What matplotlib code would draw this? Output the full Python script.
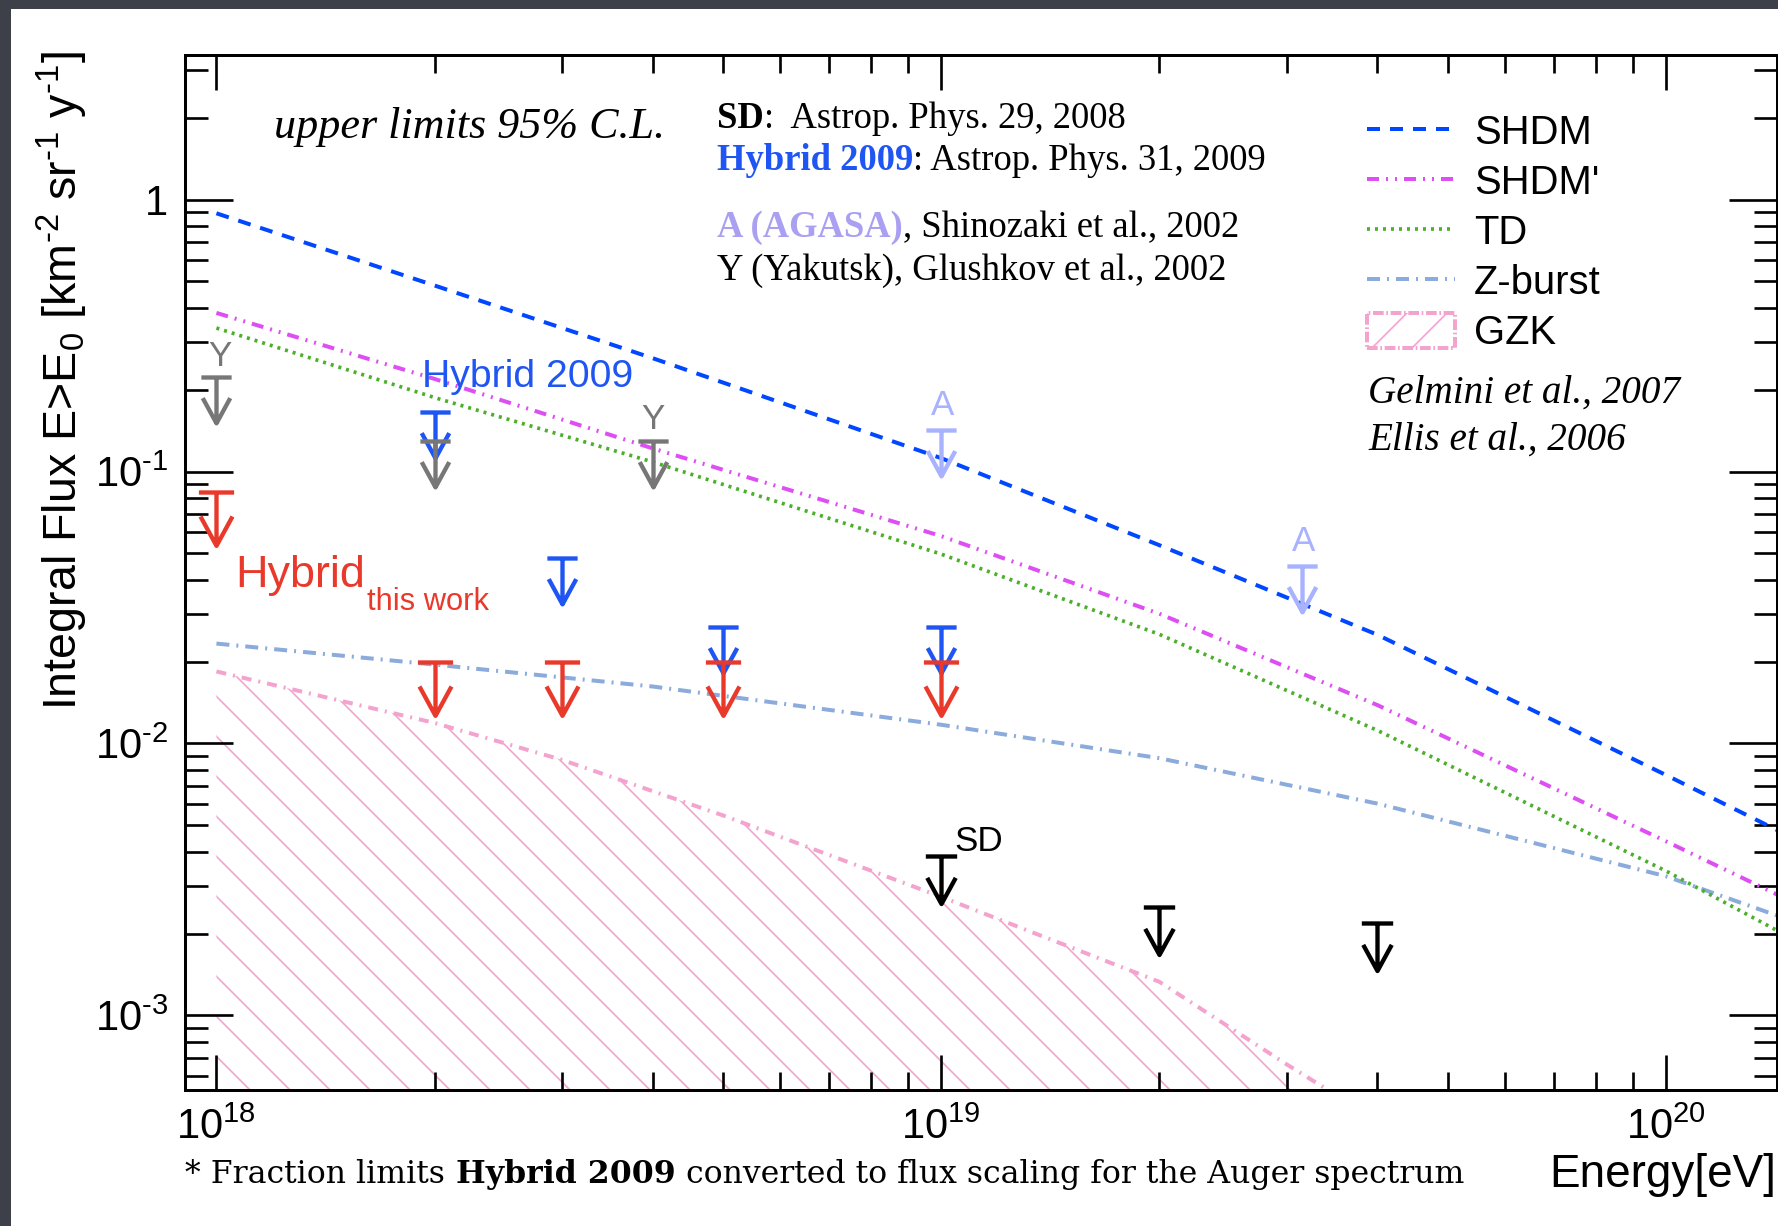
import matplotlib
matplotlib.use('Agg')
import matplotlib.pyplot as plt
import numpy as np
from matplotlib.path import Path
from matplotlib.patches import Rectangle, Patch
from matplotlib.lines import Line2D
from matplotlib.ticker import LogLocator, NullFormatter, FuncFormatter

plt.rcParams['font.family'] = ['Liberation Sans', 'DejaVu Sans']
plt.rcParams['mathtext.fontset'] = 'custom'
plt.rcParams['mathtext.rm'] = 'Liberation Sans'
plt.rcParams['mathtext.it'] = 'Liberation Sans:italic'
plt.rcParams['mathtext.bf'] = 'Liberation Sans:bold'
plt.rcParams['lines.scale_dashes'] = False
plt.rcParams['hatch.linewidth'] = 1.0

# model predictions, integral flux E>E0 [km^-2 sr^-1 yr^-1]
model_E = [1e18, 2e18, 4e18, 1e19, 2e19, 4e19, 1e20, 1.45e20]
shdm = [0.89, 0.483, 0.261, 0.112, 0.0536, 0.0251, 7.66e-3, 4.69e-3]
shdm2 = [0.383, 0.219, 0.1216, 0.0579, 0.030, 0.01384, 4.37e-3, 2.72e-3]
td = [0.337, 0.187, 0.1084, 0.0497, 0.0252, 0.01117, 3.4e-3, 2.0e-3]
zburst = [0.0233, 0.0195, 0.0162, 0.01172, 8.83e-3, 6.01e-3, 3.25e-3, 2.29e-3]

gzk_E = [1e18, 2e18, 3e18, 5e18, 1e19, 2e19, 3e19, 4e19]
gzk = [0.0184, 0.0119, 8.7e-3, 5.44e-3, 2.73e-3, 1.33e-3, 6.6e-4, 4.1e-4]

# photon flux upper limits
hyb_E = [1e18, 2e18, 3e18, 5e18, 1e19]
hyb_F = [0.0841, 0.020, 0.020, 0.020, 0.020]
hyb09_E = [2e18, 3e18, 5e18, 1e19]
hyb09_F = [0.165, 0.048, 0.0267, 0.0267]
sd_E = [1e19, 2e19, 4e19]
sd_F = [3.86e-3, 2.5e-3, 2.18e-3]
yak_E = [1e18, 2e18, 4e18]
yak_F = [0.222, 0.130, 0.130]
agasa_E = [1e19, 3.15e19]
agasa_F = [0.142, 0.045]

c_shdm = '#0047ff'
c_shdm2 = '#dd4ff2'
c_td = '#4caf2a'
c_z = '#8babdc'
c_gzk = '#f4a3cf'
c_red = '#e8392b'
c_blue = '#1f55f2'
c_gray = '#777777'
c_agasa = '#a8b2ff'

ls_shdm = (0, (7.8, 6.0))
ls_shdm2 = (0, (7.2, 4.2, 1.2, 4.2, 1.2, 4.2))
ls_td = (0, (1.8, 3.0))
ls_z = (0, (7.8, 4.2, 1.2, 4.2))
ls_gzk = (0, (6.0, 4.2, 1.2, 4.2))

# upper limit symbol: bar, stem and open arrow head
limit = Path([(-0.33, 0), (0.33, 0), (0, 0), (0, -1), (-0.3, -0.45), (0, -1), (0.3, -0.45)],
             [Path.MOVETO, Path.LINETO, Path.MOVETO, Path.LINETO, Path.MOVETO, Path.LINETO, Path.LINETO])

fig = plt.figure(figsize=(1778 / 120, 1226 / 120), dpi=120, facecolor='#3d4049')
fig.patches.append(Rectangle((11 / 1778, 0), 1, 1 - 9 / 1226, transform=fig.transFigure,
                             facecolor='white', edgecolor='none', zorder=-1))
ax = fig.add_axes([185 / 1778, 136 / 1226, 1592 / 1778, 1035 / 1226])
ax.set_xscale('log')
ax.set_yscale('log')
ax.set_xlim(9.05e17, 1.4235e20)
ax.set_ylim(5.32e-4, 3.40)

ax.fill_between(gzk_E, gzk, 1e-6, facecolor='none', edgecolor=c_gzk, hatch='\\', linewidth=0, zorder=1)
ax.plot(gzk_E, gzk, color=c_gzk, lw=2.4, ls=ls_gzk, zorder=2)
ax.plot(model_E, zburst, color=c_z, lw=2.4, ls=ls_z, zorder=2)
ax.plot(model_E, td, color=c_td, lw=2.2, ls=ls_td, zorder=2)
ax.plot(model_E, shdm2, color=c_shdm2, lw=2.4, ls=ls_shdm2, zorder=2)
ax.plot(model_E, shdm, color=c_shdm, lw=2.4, ls=ls_shdm, zorder=2)

mk = dict(ls='none', marker=limit, mfc='none', mew=2.6)
ax.plot(hyb09_E, hyb09_F, mec=c_blue, ms=55, zorder=5, **mk)
ax.plot(yak_E, yak_F, mec=c_gray, ms=55, zorder=6, **mk)
ax.plot(agasa_E, agasa_F, mec=c_agasa, ms=55, zorder=6, **mk)
ax.plot(sd_E, sd_F, mec='black', ms=57, zorder=6, **mk)
ax.plot(hyb_E, hyb_F, mec=c_red, ms=64, zorder=7, **mk)

for e, f in zip(yak_E[::2], yak_F[::2]):
    ax.annotate('Y', (e, f), xytext=(2 if e == yak_E[0] else 0, 7), textcoords='offset points',
                ha='center', va='baseline', color=c_gray, fontsize=21)
for e, f in zip(agasa_E, agasa_F):
    ax.annotate('A', (e, f), xytext=(1, 9), textcoords='offset points',
                ha='center', va='baseline', color=c_agasa, fontsize=21)
ax.annotate('SD', (sd_E[0], sd_F[0]), xytext=(8, 3), textcoords='offset points',
            ha='left', va='baseline', color='black', fontsize=21)

ax.text(0.1487, 0.6792, 'Hybrid 2009', transform=ax.transAxes, color=c_blue, fontsize=23.5, va='baseline')
ax.text(0.0314, 0.4860, 'Hybrid', transform=ax.transAxes, color=c_red, fontsize=27, va='baseline')
ax.text(0.1143, 0.4638, 'this work', transform=ax.transAxes, color=c_red, fontsize=18.5, va='baseline')


def rich(x, y, parts, size, family, transform):
    t = ax.text(x, y, parts[0][0], transform=transform, va='baseline', fontsize=size,
                family=family, **parts[0][1])
    for s, kw in parts[1:]:
        t = ax.annotate(s, xy=(1, 0), xycoords=t, va='bottom', ha='left', fontsize=size,
                        family=family, annotation_clip=False, **kw)


serif = 'Liberation Serif'
ax.text(0.0559, 0.9198, 'upper limits 95% C.L.', transform=ax.transAxes, family=serif,
        style='italic', fontsize=26.5, va='baseline')
rich(0.3342, 0.9295, [('SD', dict(weight='bold')), (':  Astrop. Phys. 29, 2008', {})], 22, serif, ax.transAxes)
rich(0.3342, 0.8889, [('Hybrid 2009', dict(weight='bold', color=c_blue)),
                      (': Astrop. Phys. 31, 2009', {})], 22, serif, ax.transAxes)
rich(0.3342, 0.8242, [('A (AGASA)', dict(weight='bold', color='#aaa0f2')),
                      (', Shinozaki et al., 2002', {})], 22, serif, ax.transAxes)
rich(0.3342, 0.7826, [('Y (Yakutsk), Glushkov et al., 2002', {})], 22, serif, ax.transAxes)
ax.text(0.7431, 0.6638, 'Gelmini et al., 2007', transform=ax.transAxes, family=serif,
        style='italic', fontsize=23.5, va='baseline')
ax.text(0.7431, 0.6184, 'Ellis et al., 2006', transform=ax.transAxes, family=serif,
        style='italic', fontsize=23.5, va='baseline')

handles = [Line2D([], [], color=c_shdm, lw=2.4, ls=ls_shdm),
           Line2D([], [], color=c_shdm2, lw=2.4, ls=ls_shdm2),
           Line2D([], [], color=c_td, lw=2.2, ls=ls_td),
           Line2D([], [], color=c_z, lw=2.4, ls=ls_z),
           Patch(facecolor='none', edgecolor=c_gzk, hatch='/', lw=2.4, ls='-.')]
ax.legend(handles, ['SHDM', "SHDM'", 'TD', 'Z-burst', 'GZK'], loc='upper left',
          bbox_to_anchor=(0.7425, 0.944), frameon=False, fontsize=24, borderpad=0,
          borderaxespad=0, handlelength=2.2, handleheight=0.97, handletextpad=0.47,
          labelspacing=0.27)

rich(185 / 1778, 1 - 1183 / 1226, [('* Fraction limits', {}), (' Hybrid 2009', dict(weight='bold')),
                                   (' converted to flux scaling for the Auger spectrum', {})],
     18.9, 'DejaVu Serif', fig.transFigure)

fig.text(0.999, 1 - 1187 / 1226, 'Energy[eV]', ha='right', va='baseline', fontsize=27.5)
fig.text(90 / 1778, 1 - 51 / 1226,
         r'Integral Flux E>E$_{0}$ [km$^{\text{-2}}$ sr$^{\text{-1}}$ y$^{\text{-1}}$]',
         rotation=90, ha='right', va='top', fontsize=28)


def log_label(v, pos):
    if abs(v - 1) < 1e-9:
        return '1'
    n = round(np.log10(v))
    if n < 0:
        return r'$\mathdefault{10^{\text{-%d}}}$' % -n
    return r'$\mathdefault{10^{%d}}$' % n


for axis in (ax.xaxis, ax.yaxis):
    axis.set_major_locator(LogLocator(base=10, numticks=20))
    axis.set_minor_locator(LogLocator(base=10, subs=np.arange(2, 10), numticks=20))
    axis.set_major_formatter(FuncFormatter(log_label))
    axis.set_minor_formatter(NullFormatter())

ax.tick_params(which='both', direction='in', top=True, right=True, width=1.6, labelsize=25)
ax.tick_params(axis='x', which='major', length=21, pad=10.8)
ax.tick_params(axis='x', which='minor', length=10.8)
ax.tick_params(axis='y', which='major', length=28.8, pad=10)
ax.tick_params(axis='y', which='minor', length=13.8)
for sp in ax.spines.values():
    sp.set_linewidth(1.8)

fig.savefig('out.png', dpi=120, facecolor=fig.get_facecolor())
